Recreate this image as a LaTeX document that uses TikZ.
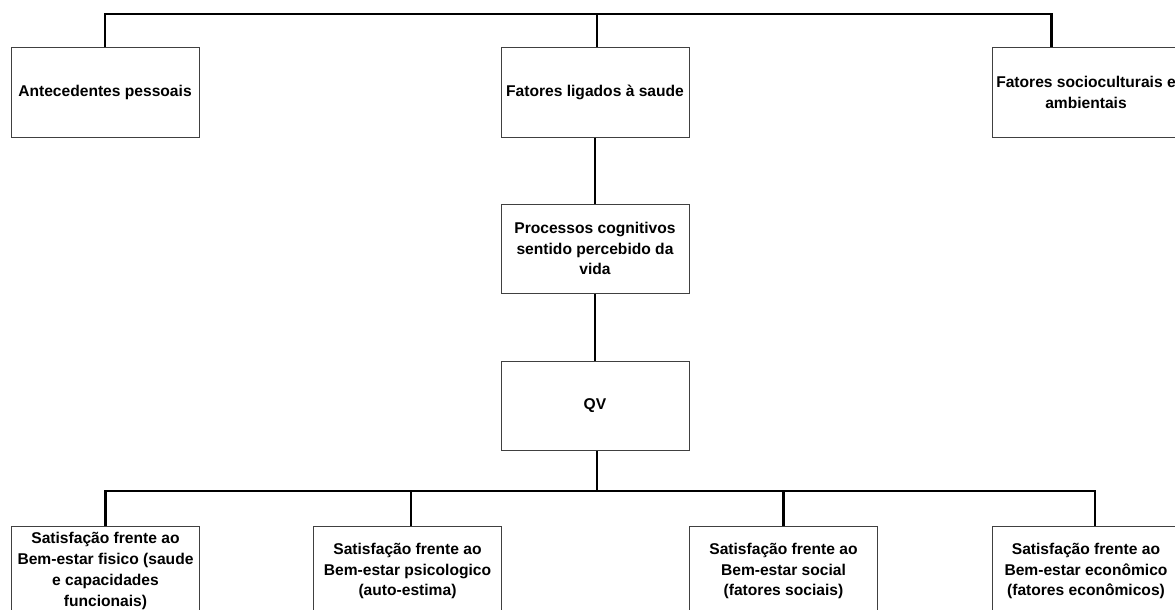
\documentclass[tikz,border=0pt]{standalone}
\usepackage{fontspec}
\setmainfont{Liberation Sans}
\usepackage{tikz}
\usetikzlibrary{positioning}
\tikzset{caixa/.style={draw=black!75,line width=0.75pt,minimum width=141pt,minimum height=66.75pt,align=center,inner sep=2pt,font=\fontsize{11.7}{15.6}\selectfont\bfseries}}
\tikzset{liga/.style={line width=2.2pt}}

\begin{document}
\begin{tikzpicture}[x=0.75pt,y=-0.75pt]
\useasboundingbox (0,0) rectangle (1175,610);
%\draw (0,0) rectangle (1175,610);

\node[caixa](A) at (105,92.5){Antecedentes pessoais};
\node[caixa](B) at (595,92.5){Fatores ligados à saude};
\node[caixa](C) at (1086,92.5){Fatores socioculturais e\\ambientais};

\node[caixa](P) at (595,248.5){Processos cognitivos\\sentido percebido da\\vida};
\node[caixa](Q) at (595,405.5){QV};

\node[caixa](S1) at (105.5,571){Satisfação frente ao\\Bem-estar fisico (saude\\e capacidades\\funcionais)};
\node[caixa](S2) at (407.5,571){Satisfação frente ao\\Bem-estar psicologico\\(auto-estima)};
\node[caixa](S3) at (783.5,571){Satisfação frente ao\\Bem-estar social\\(fatores sociais)};
\node[caixa](S4) at (1086,571){Satisfação frente ao\\Bem-estar econômico\\(fatores econômicos)};

% barra de cima
\coordinate (T) at (597,14);
\draw[liga] (A.north) |- (T) -| ([xshift=-26pt]C.north);
\draw[liga] (T) -- ([xshift=1.5pt]B.north);
\draw[liga] (B) -- (P);
\draw[liga] (P) -- (Q);

% barra de baixo
\coordinate (U) at (597,491);
\draw[liga] ([xshift=1.5pt]Q.south) -- (U);
\draw[liga] (S1.north) |- (U) -| ([xshift=6.75pt]S4.north);
\draw[liga] (U -| S2.north) ++(2.6pt,0) -- ([xshift=2.6pt]S2.north);
\draw[liga] (U -| S3.north) -- (S3.north);

\end{tikzpicture}
\end{document}
